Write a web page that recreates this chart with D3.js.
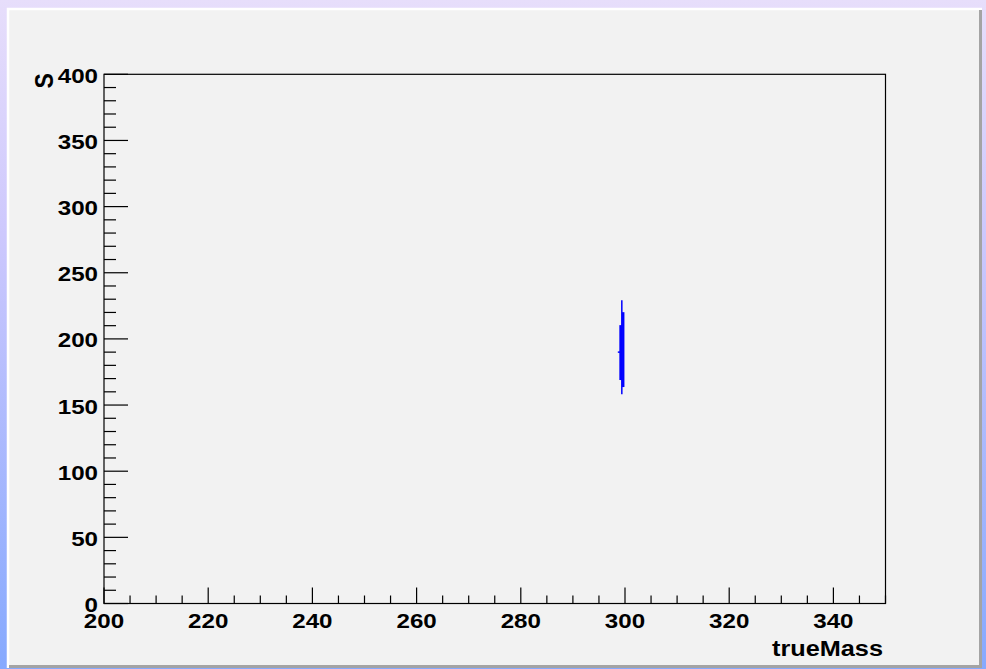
<!DOCTYPE html>
<html>
<head>
<meta charset="utf-8">
<script src="https://cdn.jsdelivr.net/npm/d3@7"></script>
<style>
  html, body { margin: 0; padding: 0; }
  body { width: 986px; height: 669px; overflow: hidden; }
  svg { display: block; }
  text { font-family: "Liberation Sans", Arial, Helvetica, sans-serif; font-weight: bold; fill: #000; }
</style>
</head>
<body>
<svg id="chart" width="986" height="669"></svg>
<script>
// Axis settings
const xTickValues = [200, 220, 240, 260, 280, 300, 320, 340];
const yTickValues = [0, 50, 100, 150, 200, 250, 300, 350, 400];
const xDomain = [200, 350];
const yDomain = [0, 400];
const xTitle = "trueMass";
const yTitle = "S";

// Measured points near trueMass = 300: S range (low..high) for each
const pointMass = [299.39, 299.66, 299.17];
const pointLow  = [158.2, 163.6, 168.9];
const pointHigh = [229.2, 220.2, 210.4];
const pointWidth = [1.5, 2.4, 2.7];
const centralMass = 299.1;
const centralS = 190;

const svg = d3.select("#chart");
const W = 986, H = 669;
const STRETCH = 1.15; // wide bold label face

// page background gradient
const defs = svg.append("defs");
const grad = defs.append("linearGradient").attr("id", "bg")
  .attr("x1", 0).attr("y1", 0).attr("x2", 0).attr("y2", 1);
grad.append("stop").attr("offset", "0%").attr("stop-color", "#e7defb");
grad.append("stop").attr("offset", "35%").attr("stop-color", "#cdc8fd");
grad.append("stop").attr("offset", "100%").attr("stop-color", "#86a9fe");
svg.append("rect").attr("width", W).attr("height", H).attr("fill", "url(#bg)");

// canvas panel with bevelled border
const P = { x0: 7, y0: 8, x1: 982, y1: 668 };
svg.append("rect").attr("x", P.x0).attr("y", P.y0)
  .attr("width", P.x1 - P.x0).attr("height", P.y1 - P.y0).attr("fill", "#f2f2f2");
svg.append("path")
  .attr("d", `M${P.x0 + 1},${P.y1} V${P.y0 + 1} H${P.x1}`)
  .attr("fill", "none").attr("stroke", "#ffffff").attr("stroke-width", 2.5);
svg.append("path")
  .attr("d", `M${P.x0 + 2},${P.y1 - 1.5} H${P.x1 - 1.5} V${P.y0 + 2}`)
  .attr("fill", "none").attr("stroke", "#a4a4a4").attr("stroke-width", 3);

// plot frame
const frame = { left: 104, right: 885.5, top: 74.3, bottom: 603.5 };
const x = d3.scaleLinear().domain(xDomain).range([frame.left, frame.right]);
const y = d3.scaleLinear().domain(yDomain).range([frame.bottom, frame.top]);

svg.append("rect")
  .attr("x", frame.left).attr("y", frame.top)
  .attr("width", frame.right - frame.left).attr("height", frame.bottom - frame.top)
  .attr("fill", "none").attr("stroke", "#000").attr("stroke-width", 1.2);

// helper: place a horizontally widened label
function label(parent, px, py, str, size, anchor) {
  parent.append("g")
    .attr("transform", `translate(${px},${py}) scale(${STRETCH},1)`)
    .append("text")
    .attr("text-anchor", anchor).attr("font-size", size)
    .text(str);
}

// x axis ticks (major 20, minor 5), drawn upward from bottom edge
const xMinor = d3.range(xDomain[0], xDomain[1] + 0.01, 5);
const gx = svg.append("g");
gx.selectAll("line").data(xMinor).join("line")
  .attr("x1", d => x(d)).attr("x2", d => x(d))
  .attr("y1", frame.bottom).attr("y2", d => frame.bottom - (d % 20 === 0 ? 16 : 8))
  .attr("stroke", "#000").attr("stroke-width", 1.2);
xTickValues.forEach(v => label(gx, x(v), 628, d3.format("d")(v), 21, "middle"));

// y axis ticks (major 50, minor 10), drawn rightward from left edge
const yMinor = d3.range(yDomain[0], yDomain[1] + 0.01, 10);
const gy = svg.append("g");
gy.selectAll("line").data(yMinor).join("line")
  .attr("x1", frame.left).attr("x2", d => frame.left + (d % 50 === 0 ? 24 : 12))
  .attr("y1", d => y(d)).attr("y2", d => y(d))
  .attr("stroke", "#000").attr("stroke-width", 1.2);
yTickValues.forEach(v => label(gy, 98, y(v) + 8.5, d3.format("d")(v), 21, "end"));

// axis titles
label(svg, 883, 656, xTitle, 22, "end");
svg.append("g")
  .attr("transform", "translate(52.5,73) rotate(-90) scale(1.1,1.25)")
  .append("text")
  .attr("text-anchor", "end").attr("font-size", 21)
  .text(yTitle);

// error bars of the points
const pts = pointMass.map((m, i) => ({ m, lo: pointLow[i], hi: pointHigh[i], w: pointWidth[i] }));
svg.append("g").selectAll("line").data(pts).join("line")
  .attr("x1", d => x(d.m)).attr("x2", d => x(d.m))
  .attr("y1", d => y(d.lo)).attr("y2", d => y(d.hi))
  .attr("stroke", "#0000ff").attr("stroke-width", d => d.w);
svg.append("line")
  .attr("x1", x(centralMass) - 2.5).attr("x2", x(centralMass) + 1)
  .attr("y1", y(centralS)).attr("y2", y(centralS))
  .attr("stroke", "#0000ff").attr("stroke-width", 1.5);
</script>
</body>
</html>
